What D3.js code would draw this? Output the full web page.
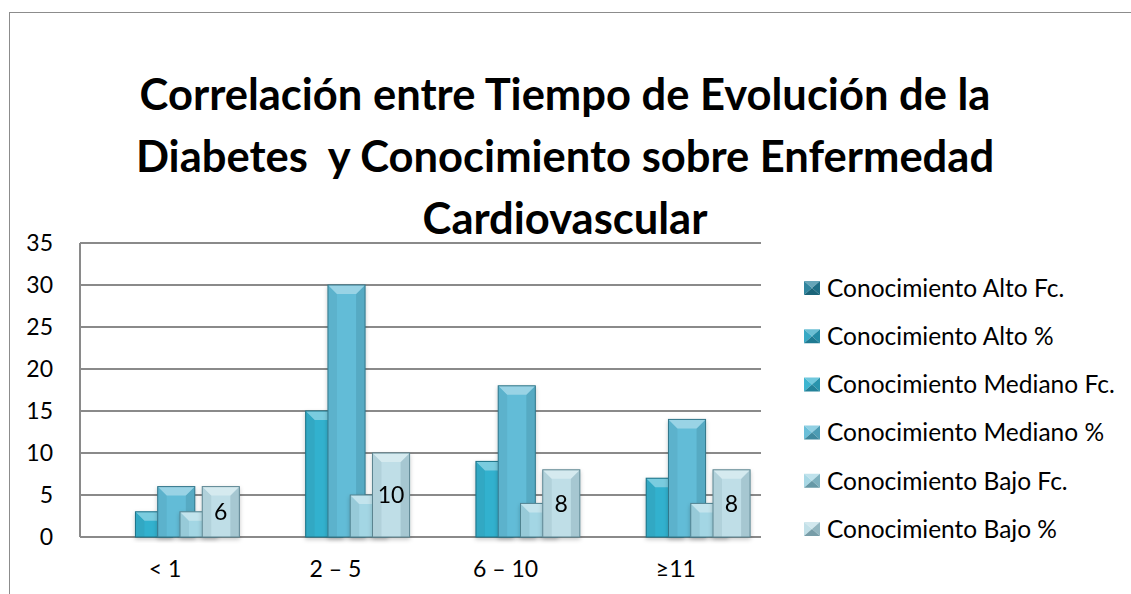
<!DOCTYPE html>
<html>
<head>
<meta charset="utf-8">
<script src="https://cdnjs.cloudflare.com/ajax/libs/d3/7.8.5/d3.min.js"></script>
<style>
  body { margin: 0; background: #fff; }
  text { font-family: Lato, "Open Sans", sans-serif; fill: #000; }
</style>
</head>
<body>
<div id="chart"></div>
<script>
var categories = ["< 1", "2 – 5", "6 – 10", "≥11"];
var seriesNames = [
  "Conocimiento Alto Fc.",
  "Conocimiento Alto %",
  "Conocimiento Mediano Fc.",
  "Conocimiento Mediano %",
  "Conocimiento Bajo Fc.",
  "Conocimiento Bajo %"
];
var altoFc = [0, 0, 0, 0];
var altoPct = [0, 0, 0, 0];
var medianoFc = [3, 15, 9, 7];
var medianoPct = [6, 30, 18, 14];
var bajoFc = [3, 5, 4, 4];
var bajoPct = [6, 10, 8, 8];
var yTicks = [0, 5, 10, 15, 20, 25, 30, 35];
var titleLines = [
  "Correlación entre Tiempo de Evolución de la",
  "Diabetes  y Conocimiento sobre Enfermedad",
  "Cardiovascular"
];

var seriesValues = [altoFc, altoPct, medianoFc, medianoPct, bajoFc, bajoPct];
var seriesColors = ["#257f99", "#2ca4c2", "#33b1ce", "#62bcd7", "#a3d6e4", "#bfdee7"];
var labelSeries = 5; // only "Bajo %" carries data labels

var width = 1131, height = 594;
var plotLeft = 80, plotRight = 761, plotTop = 243, plotBottom = 537;

var svg = d3.select("#chart").append("svg")
  .attr("width", width)
  .attr("height", height);

var defs = svg.append("defs");
defs.append("filter").attr("id", "shadow")
  .attr("x", "-20%").attr("y", "-20%").attr("width", "140%").attr("height", "140%")
  .append("feDropShadow")
  .attr("dx", 0).attr("dy", 2).attr("stdDeviation", 2)
  .attr("flood-color", "#000").attr("flood-opacity", 0.22);

// outer frame of the chart
svg.append("rect")
  .attr("x", 9.5).attr("y", 12.5)
  .attr("width", width).attr("height", height)
  .attr("fill", "none")
  .attr("stroke", "#8c8c8c");

// title
svg.append("g").selectAll("text")
  .data(titleLines)
  .enter().append("text")
  .attr("x", 565)
  .attr("y", function(d, i) { return 110 + i * 62; })
  .attr("text-anchor", "middle")
  .style("font-size", "43.5px")
  .style("font-weight", "bold")
  .style("white-space", "pre")
  .text(function(d) { return d; });

var x = d3.scaleBand().domain(categories).range([plotLeft, plotRight]);
var y = d3.scaleLinear().domain([0, 35]).range([plotBottom, plotTop]);

var barW = x.bandwidth() * 0.218;
var step = barW * 0.6;
var clusterW = step * (seriesNames.length - 1) + barW;

// gridlines
svg.append("g").selectAll("line")
  .data(yTicks)
  .enter().append("line")
  .attr("x1", plotLeft).attr("x2", plotRight)
  .attr("y1", function(d) { return y(d); })
  .attr("y2", function(d) { return y(d); })
  .attr("stroke", "#8a8a8a")
  .attr("stroke-width", 2);

svg.append("line")
  .attr("x1", plotLeft).attr("x2", plotLeft)
  .attr("y1", plotTop).attr("y2", plotBottom)
  .attr("stroke", "#8a8a8a")
  .attr("stroke-width", 2);

// y axis labels
var yAxis = d3.axisLeft(y).tickValues(yTicks).tickSize(0).tickPadding(27);
var gy = svg.append("g").attr("transform", "translate(" + plotLeft + ",0)").call(yAxis);
gy.select(".domain").remove();
gy.selectAll("text").style("font-size", "23px").style("font-family", "Lato");

// x axis labels
var xAxis = d3.axisBottom(x).tickSize(0).tickPadding(24);
var gx = svg.append("g").attr("transform", "translate(0," + plotBottom + ")").call(xAxis);
gx.select(".domain").remove();
gx.selectAll("text").style("font-size", "23px").style("font-family", "Lato");

// bars
var bars = [];
seriesValues.forEach(function(vals, s) {
  vals.forEach(function(v, c) {
    bars.push({ s: s, c: c, v: v });
  });
});

function shade(col, k) {
  return k > 0 ? d3.interpolateRgb(col, "#ffffff")(k) : d3.interpolateRgb(col, "#0b3c4a")(-k);
}

var barG = svg.append("g").selectAll("g")
  .data(bars.filter(function(d) { return d.v > 0; }))
  .enter().append("g")
  .attr("filter", "url(#shadow)");

barG.each(function(d) {
  var g = d3.select(this);
  var col = seriesColors[d.s];
  var x0 = x(categories[d.c]) + (x.bandwidth() - clusterW) / 2 + d.s * step;
  var y0 = y(d.v), y1 = y(0);
  var h = y1 - y0;
  var b = Math.min(9, h / 2);
  g.append("rect")
    .attr("x", x0).attr("y", y0).attr("width", barW).attr("height", h)
    .attr("fill", col);
  // side bevel strips
  g.append("polygon")
    .attr("points", [[x0, y0], [x0 + b, y0 + b], [x0 + b, y1], [x0, y1]].join(" "))
    .attr("fill", shade(col, -0.08));
  g.append("polygon")
    .attr("points", [[x0 + barW, y0], [x0 + barW - b, y0 + b], [x0 + barW - b, y1], [x0 + barW, y1]].join(" "))
    .attr("fill", shade(col, -0.14));
  // top bevel
  g.append("polygon")
    .attr("points", [[x0, y0], [x0 + barW, y0], [x0 + barW - b, y0 + b], [x0 + b, y0 + b]].join(" "))
    .attr("fill", shade(col, 0.35));
  g.append("rect")
    .attr("x", x0).attr("y", y0).attr("width", barW).attr("height", h)
    .attr("fill", "none")
    .attr("stroke", shade(col, -0.55))
    .attr("stroke-width", 1);
  if (d.s === labelSeries) {
    g.append("text")
      .attr("x", x0 + barW / 2)
      .attr("y", (y0 + y1) / 2)
      .attr("dy", "0.36em")
      .attr("text-anchor", "middle")
      .style("font-size", "23px")
      .text(d.v);
  }
});

// legend
var legend = svg.append("g").selectAll("g")
  .data(seriesNames)
  .enter().append("g")
  .attr("transform", function(d, i) { return "translate(804," + (288 + i * 48.2) + ")"; });

legend.each(function(d, i) {
  var g = d3.select(this);
  var col = seriesColors[i];
  var w = 16, h = 14, t = -7;
  var cx = w / 2, cy = t + h / 2;
  g.append("polygon").attr("points", [[0, t], [w, t], [cx, cy]].join(" ")).attr("fill", shade(col, 0.3));
  g.append("polygon").attr("points", [[0, t], [cx, cy], [0, t + h]].join(" ")).attr("fill", shade(col, 0.05));
  g.append("polygon").attr("points", [[w, t], [cx, cy], [w, t + h]].join(" ")).attr("fill", shade(col, -0.25));
  g.append("polygon").attr("points", [[0, t + h], [cx, cy], [w, t + h]].join(" ")).attr("fill", shade(col, -0.4));
  g.append("text")
    .attr("x", 23)
    .attr("dy", "0.36em")
    .style("font-size", "24.5px")
    .text(d);
});
</script>
</body>
</html>
